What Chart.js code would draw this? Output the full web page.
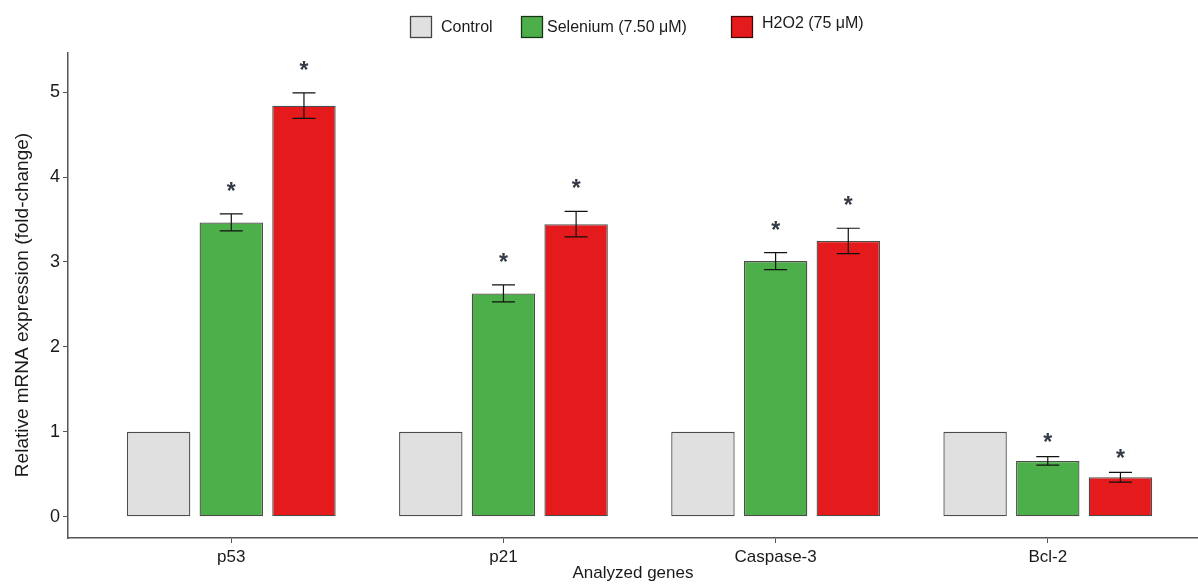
<!DOCTYPE html>
<html><head><meta charset="utf-8">
<script src="https://cdn.jsdelivr.net/npm/chart.js@4.4.1/dist/chart.umd.min.js"></script>
<style>html,body{margin:0;padding:0;background:#fff;overflow:hidden}#wrap{width:1198px;height:587px;position:relative}</style>
</head><body><div id="wrap"><canvas id="c" width="1198" height="587"></canvas></div>
<script>
const genes = ['p53', 'p21', 'Caspase-3', 'Bcl-2'];
const seriesNames = ['Control', 'Selenium (7.50 \u03bcM)', 'H2O2 (75 \u03bcM)'];
const controlMean = [1, 1, 1, 1];
const seleniumMean = [3.465, 2.63, 3.01, 0.657];
const h2o2Mean = [4.84, 3.445, 3.247, 0.465];
const controlErr = [0, 0, 0, 0];
const seleniumErr = [0.10, 0.10, 0.10, 0.05];
const h2o2Err = [0.15, 0.15, 0.15, 0.057];
const controlStarY = [null, null, null, null];
const seleniumStarY = [3.894, 3.062, 3.444, 0.945];
const h2o2StarY = [5.318, 3.933, 3.729, 0.756];
const yTicks = [0, 1, 2, 3, 4, 5];
const yTitle = 'Relative mRNA expression (fold-change)';
const xTitle = 'Analyzed genes';

const FONT = '"Liberation Sans", Arial, Helvetica, sans-serif';

function pts(arr) { return genes.map((g, i) => ({ x: i + 1, y: arr[i] })); }

const overlay = {
  id: 'overlay',
  afterDatasetsDraw(chart) {
    const ctx = chart.ctx, ys = chart.scales.y;
    chart.data.datasets.forEach((ds, di) => {
      const meta = chart.getDatasetMeta(di);
      meta.data.forEach((bar, i) => {
        const m = ds.data[i].y, e = ds.err[i];
        ctx.save();
        if (e > 0) {
          const yt = ys.getPixelForValue(m + e), yb = ys.getPixelForValue(m - e);
          ctx.strokeStyle = '#111';
          ctx.lineWidth = 1.2;
          ctx.beginPath();
          ctx.moveTo(bar.x, yt); ctx.lineTo(bar.x, yb);
          ctx.moveTo(bar.x - 11.5, yt); ctx.lineTo(bar.x + 11.5, yt);
          ctx.moveTo(bar.x - 11.5, yb); ctx.lineTo(bar.x + 11.5, yb);
          ctx.stroke();
        }
        const s = ds.star[i];
        if (s != null) {
          const yc = ys.getPixelForValue(s);
          ctx.fillStyle = '#343a46';
          ctx.font = 'bold 23px ' + FONT;
          ctx.textAlign = 'center';
          ctx.textBaseline = 'alphabetic';
          ctx.fillText('*', bar.x, yc + 23 * 0.58);
        }
        ctx.restore();
      });
    });
  },
  afterDraw(chart) {
    const ctx = chart.ctx;
    const spots = [{ bx: 410, tx: 441, ty: 28 }, { bx: 521, tx: 547, ty: 28 }, { bx: 731, tx: 762, ty: 24 }];
    ctx.save();
    chart.data.datasets.forEach((ds, di) => {
      const p = spots[di];
      ctx.fillStyle = ds.backgroundColor;
      ctx.fillRect(p.bx, 16, 22, 22);
      ctx.strokeStyle = ds.borderColor;
      ctx.lineWidth = 1.3;
      ctx.strokeRect(p.bx + 0.5, 16.5, 21, 21);
      ctx.fillStyle = '#1a1a1a';
      ctx.font = '16px ' + FONT;
      ctx.textAlign = 'left';
      ctx.textBaseline = 'middle';
      ctx.fillText(ds.label, p.tx, p.ty);
    });
    ctx.translate(23, 305);
    ctx.rotate(-Math.PI / 2);
    ctx.fillStyle = '#1a1a1a';
    ctx.font = '19px ' + FONT;
    ctx.textAlign = 'center';
    ctx.textBaseline = 'middle';
    ctx.fillText(yTitle, 0, 0);
    ctx.restore();
  }
};

const border = 'rgba(0,0,0,0.7)';
const barStyle = { borderColor: border, borderWidth: 1.3, borderSkipped: false };
new Chart(document.getElementById('c'), {
  type: 'bar',
  data: {
    datasets: [
      Object.assign({ label: seriesNames[0], data: pts(controlMean), err: controlErr, star: controlStarY, backgroundColor: '#E0E0E0' }, barStyle),
      Object.assign({ label: seriesNames[1], data: pts(seleniumMean), err: seleniumErr, star: seleniumStarY, backgroundColor: '#4DAF4A' }, barStyle),
      Object.assign({ label: seriesNames[2], data: pts(h2o2Mean), err: h2o2Err, star: h2o2StarY, backgroundColor: '#E41A1C' }, barStyle)
    ]
  },
  options: {
    responsive: false, animation: false, devicePixelRatio: 1,
    layout: { padding: { top: 53, left: 0, right: 0, bottom: 0 } },
    plugins: { legend: { display: false }, tooltip: { enabled: false } },
    datasets: { bar: { categoryPercentage: 0.801, barPercentage: 0.873, grouped: true } },
    scales: {
      x: {
        type: 'linear', min: 0.4, max: 4.552, offset: false,
        afterBuildTicks: s => { s.ticks = genes.map((g, i) => ({ value: i + 1 })); },
        afterFit: s => { s.height = 49; },
        ticks: { callback: v => genes[Math.round(v) - 1] ?? '', font: { family: FONT, size: 17 }, color: '#1a1a1a', padding: 4, maxRotation: 0, autoSkip: false },
        grid: { display: true, drawOnChartArea: false, drawTicks: true, tickLength: 5, color: '#555', offset: false },
        border: { display: true, color: '#555', width: 1.5 },
        title: { display: true, text: xTitle, font: { family: FONT, size: 17 }, color: '#1a1a1a', padding: { top: 0, bottom: 3 } }
      },
      y: {
        type: 'linear', min: -0.25, max: 5.46,
        afterBuildTicks: s => { s.ticks = yTicks.map(v => ({ value: v })); },
        afterFit: s => { s.width = 68; },
        ticks: { font: { family: FONT, size: 18 }, color: '#1a1a1a', padding: 3 },
        grid: { display: true, drawOnChartArea: false, drawTicks: true, tickLength: 5, color: '#555' },
        border: { display: true, color: '#555', width: 1.5 },
        title: { display: false }
      }
    }
  },
  plugins: [overlay]
});
</script></body></html>
